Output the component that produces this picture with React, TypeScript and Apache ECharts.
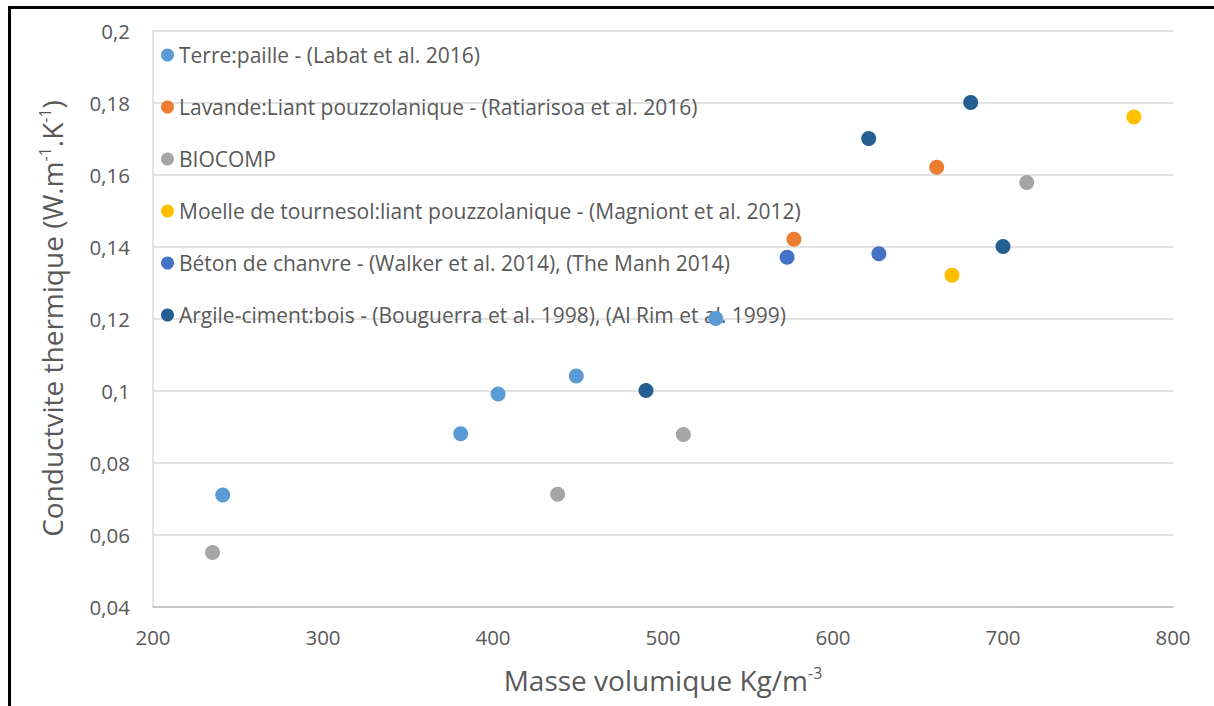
import React, { useEffect, useRef } from "react";
import * as echarts from "echarts";

const seriesNames = [
  "Terre:paille - (Labat et al. 2016)",
  "Lavande:Liant pouzzolanique - (Ratiarisoa et al. 2016)",
  "BIOCOMP",
  "Moelle de tournesol:liant pouzzolanique - (Magniont et al. 2012)",
  "Béton de chanvre - (Walker et al. 2014), (The Manh 2014)",
  "Argile-ciment:bois - (Bouguerra et al. 1998), (Al Rim et al. 1999)",
];
const seriesColors = ["#5B9BD5", "#ED7D31", "#A5A5A5", "#FFC000", "#4472C4", "#255E91"];

const terrePaille = [[241, 0.071], [381, 0.088], [403, 0.099], [449, 0.104], [531, 0.12]];
const lavande = [[577, 0.142], [661, 0.162]];
const biocomp = [[235, 0.055], [438, 0.0712], [512, 0.0878], [714, 0.1578]];
const moelle = [[670, 0.132], [777, 0.176]];
const betonChanvre = [[573, 0.137], [627, 0.138]];
const argileCiment = [[490, 0.1], [621, 0.17], [681, 0.18], [700, 0.14]];

const allData = [terrePaille, lavande, biocomp, moelle, betonChanvre, argileCiment];

const FONT = "'Open Sans', sans-serif";
const TEXT = "#595959";

export default function App() {
  const ref = useRef<HTMLDivElement>(null);
  useEffect(() => {
    if (!ref.current) return;
    const chart = echarts.init(ref.current, null, { renderer: "svg" });
    chart.setOption({
      animation: false,
      backgroundColor: "#ffffff",
      textStyle: { fontFamily: FONT },
      grid: { left: 153, right: 41, top: 30.5, bottom: 99.5, containLabel: false },
      legend: {
        orient: "vertical",
        left: 156,
        top: 38,
        padding: 5,
        icon: "circle",
        itemWidth: 13,
        itemHeight: 13,
        itemGap: 28,
        z: 4,
        textStyle: { fontFamily: FONT, fontSize: 21, color: TEXT, lineHeight: 24 },
        data: seriesNames,
      },
      xAxis: {
        type: "value",
        min: 200,
        max: 800,
        interval: 100,
        name: "Masse volumique Kg/m{sup|-3}",
        nameLocation: "middle",
        nameGap: 58,
        nameTextStyle: {
          fontFamily: FONT,
          fontSize: 28,
          color: TEXT,
          rich: { sup: { fontSize: 16, verticalAlign: "top", color: TEXT, padding: [0, 0, 14, 0] } },
        },
        axisLine: { show: true, lineStyle: { color: "#BFBFBF", width: 1.5 } },
        axisTick: { show: false },
        splitLine: { show: false },
        axisLabel: { fontFamily: FONT, fontSize: 20.5, color: TEXT, margin: 20 },
      },
      yAxis: {
        type: "value",
        min: 0.04,
        max: 0.2,
        interval: 0.02,
        name: "Conductvite thermique (W.m{sup|-1}.K{sup|-1})",
        nameLocation: "middle",
        nameGap: 86,
        nameRotate: 90,
        nameTextStyle: {
          fontFamily: FONT,
          fontSize: 28,
          color: TEXT,
          rich: { sup: { fontSize: 16, verticalAlign: "top", color: TEXT, padding: [0, 0, 14, 0] } },
        },
        axisLine: { show: true, lineStyle: { color: "#D9D9D9", width: 1.5 } },
        axisTick: { show: false },
        splitLine: { show: true, lineStyle: { color: "#D9D9D9", width: 1.5 } },
        axisLabel: {
          fontFamily: FONT,
          fontSize: 20.5,
          color: TEXT,
          margin: 23,
          formatter: (v: number) => String(+v.toFixed(2)).replace(".", ","),
        },
      },
      series: allData.map((d, i) => ({
        type: "scatter",
        name: seriesNames[i],
        data: d,
        symbol: "circle",
        symbolSize: 15,
        itemStyle: { color: seriesColors[i], opacity: 1 },
        z: 6,
      })),
      graphic: [
        {
          type: "rect",
          shape: { x: 9.5, y: 7.5, width: 1400, height: 900 },
          style: { fill: "none", stroke: "#000000", lineWidth: 3 },
          silent: true,
          z: 100,
        },
      ],
    });
    return () => chart.dispose();
  }, []);
  return (
    <div
      ref={ref}
      style={{ position: "fixed", left: 0, top: 0, width: 1214, height: 706 }}
    />
  );
}
